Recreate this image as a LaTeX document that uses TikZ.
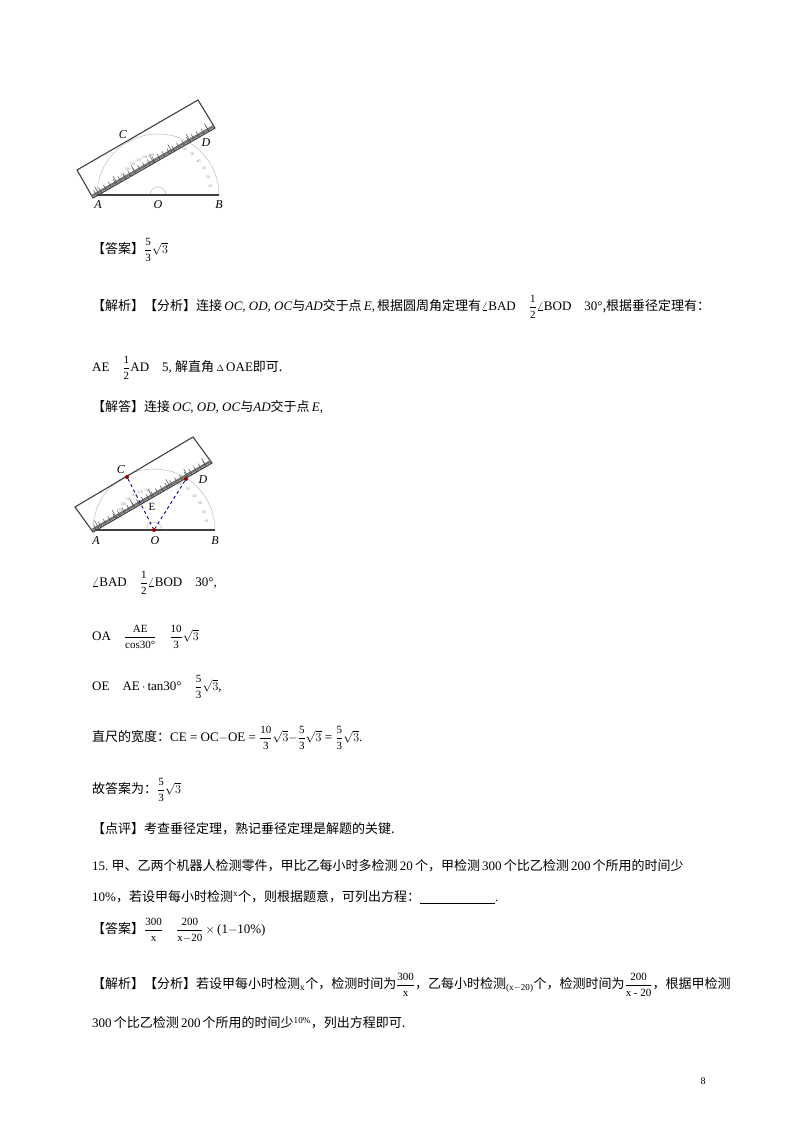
\documentclass[tikz,border=0pt]{standalone}
\usepackage{amsmath}
\usepackage{fontspec}
\setmainfont{Liberation Serif}
\newfontfamily\cjk{Noto Sans CJK SC}
\usetikzlibrary{calc}
\newcommand{\zh}[1]{{\cjk #1}}
\newcommand{\fr}[2]{\ensuremath{\dfrac{\text{\fontsize{11}{12}\selectfont #1}}{\text{\fontsize{11}{12}\selectfont #2}}}}
\tikzset{
  txt/.style={anchor=west,inner sep=0pt,font=\fontsize{13}{15}\selectfont},
  lbl/.style={inner sep=0pt,font=\fontsize{12}{14}\selectfont\itshape},
  ruler/.style={draw=black!75,line width=1.1pt},
  prot/.style={draw=black!25,line width=0.5pt},
  base/.style={draw=black!75,line width=1.4pt},
  tick/.style={draw=black!70,line width=0.5pt},
  num/.style={inner sep=0pt,font=\fontsize{4}{4}\selectfont,text=black!45},
  dsh/.style={draw=blue!55!black,dashed,line width=0.9pt},
  dot/.style={circle,fill=red!60!black,inner sep=0pt,minimum size=4pt}
}
\begin{document}
\begin{tikzpicture}[x=1pt,y=-1pt]
\useasboundingbox (0,0) rectangle (800,1132);
\fill[white] (0,0) rectangle (800,1132);
% ---------- figure 1 ----------
\coordinate (A1) at (97,195); \coordinate (B1) at (219,195); \coordinate (O1) at (158,195);
\coordinate (P1) at (93,198); \coordinate (P2) at (215,128);
\coordinate (P3) at (198,100); \coordinate (P4) at (77,170);
\draw[prot] (219,195) arc[start angle=0,end angle=-180,radius=61];
\draw[prot] (150,195) arc[start angle=-180,end angle=0,radius=8];
\foreach \a/\n in {10/10,20/20,30/30,40/40,50/50,60/60}{
  \node[num] at ($(O1)+(-\a:53)$) {\n};}
\foreach \a/\n in {100/100,110/110,120/120,130/130,140/140,150/150}{
  \node[num] at ($(O1)+(-\a:40)$) {\n};}
\draw[ruler] (P1) -- (P2) -- (P3) -- (P4) -- cycle;
\draw[black!55,line width=2.5pt] ($(P1)+(-1,-2)$) -- ($(P2)+(-1,-2)$);
\foreach \t in {0.03,0.07,...,0.99}{
  \draw[tick] ($(P1)!\t!(P2)$) -- ++(-3,-5.5);}
\foreach \t in {0.05,0.2,...,0.99}{
  \draw[tick] ($(P1)!\t!(P2)$) -- ++(-4.5,-8);}
\draw[base] (A1) -- (B1);
\node[lbl] (lA1) at (98,205) {A};
\node[lbl] (lO1) at (158,205) {O};
\node[lbl] (lB1) at (219,205) {B};
\node[lbl] (lC1) at (123,135) {C};
\node[lbl] (lD1) at (206,143) {D};
% ---------- figure 2 ----------
\coordinate (A2) at (95,530); \coordinate (B2) at (215,530); \coordinate (O2) at (154,530);
\coordinate (Q1) at (93,532); \coordinate (Q2) at (212,463);
\coordinate (Q3) at (193,437); \coordinate (Q4) at (75,507);
\draw[prot] (215,530) arc[start angle=0,end angle=-180,radius=61];
\draw[prot] (146,530) arc[start angle=-180,end angle=0,radius=8];
\foreach \a/\n in {10/10,20/20,30/30,40/40,50/50,60/60}{
  \node[num] at ($(O2)+(-\a:53)$) {\n};}
\foreach \a/\n in {100/100,110/110,120/120,130/130,140/140,150/150}{
  \node[num] at ($(O2)+(-\a:40)$) {\n};}
\draw[ruler] (Q1) -- (Q2) -- (Q3) -- (Q4) -- cycle;
\draw[black!55,line width=2.5pt] ($(Q1)+(-1,-2)$) -- ($(Q2)+(-1,-2)$);
\foreach \t in {0.03,0.07,...,0.99}{
  \draw[tick] ($(Q1)!\t!(Q2)$) -- ++(-3,-5.5);}
\foreach \t in {0.05,0.2,...,0.99}{
  \draw[tick] ($(Q1)!\t!(Q2)$) -- ++(-4.5,-8);}
\draw[base] (A2) -- (B2);
\node[dot] (C2) at (127,477) {};
\node[dot] (D2) at (186,479) {};
\node[dot] (O2d) at (154,530) {};
\draw[dsh] (C2) -- (O2d);
\draw[dsh] (D2) -- (O2d);
\node[lbl] (lA2) at (96,541) {A};
\node[lbl] (lO2) at (155,541) {O};
\node[lbl] (lB2) at (215,541) {B};
\node[lbl] (lC2) at (121,470) {C};
\node[lbl] (lD2) at (203,480) {D};
\node[inner sep=0pt,font=\fontsize{11}{12}\selectfont] (lE2) at (152,507) {E};
% ---------- text ----------
\node[txt] (t1) at (92,250) {\zh{【答案】}\fr{5}{3}$\sqrt{3}$};
\node[txt] (t2) at (92,307) {\zh{【解析】【分析】连接}\,\textit{OC, OD, OC}\zh{与}\textit{AD}\zh{交于点}\,\textit{E},\,\zh{根据圆周角定理有}$\angle$BAD\quad\fr{1}{2}$\angle$BOD\quad 30°\zh{,根据垂径定理有：}};
\node[txt] (t3) at (92,368) {AE\quad\fr{1}{2}AD\quad 5,\ \zh{解直角}\,$\scriptstyle\Delta$\,OAE\zh{即可.}};
\node[txt] (t4) at (92,407) {\zh{【解答】连接}\,\textit{OC, OD, OC}\zh{与}\textit{AD}\zh{交于点}\,\textit{E},};
\node[txt] (t5) at (92,583) {$\angle$BAD\quad\fr{1}{2}$\angle$BOD\quad 30°,};
\node[txt] (t6) at (92,637) {OA\quad\fr{AE}{cos30°}\quad\fr{10}{3}$\sqrt{3}$};
\node[txt] (t7) at (92,687) {OE\quad AE\,$\cdot$\,tan30°\quad\fr{5}{3}$\sqrt{3}$,};
\node[txt] (t8) at (92,738) {\zh{直尺的宽度：}CE = OC$-$OE = \fr{10}{3}$\sqrt{3}-$\fr{5}{3}$\sqrt{3}$ = \fr{5}{3}$\sqrt{3}$.};
\node[txt] (t9) at (92,790) {\zh{故答案为：}\fr{5}{3}$\sqrt{3}$};
\node[txt] (t10) at (92,829) {\zh{【点评】考查垂径定理，熟记垂径定理是解题的关键.}};
\node[txt] (t11) at (92,866) {15.\ \zh{甲、乙两个机器人检测零件，甲比乙每小时多检测}\,20\,\zh{个，甲检测}\,300\,\zh{个比乙检测}\,200\,\zh{个所用的时间少}};
\node[txt] (t12) at (92,897) {10\%\zh{，若设甲每小时检测}$^{\text{x}}$\zh{个，则根据题意，可列出方程：}\underline{\hspace{75pt}}.};
\node[txt] (t13) at (92,930) {\zh{【答案】}\fr{300}{x}\quad\fr{200}{x$-$20}\,$\times$\,(1$-$10\%)};
\node[txt] (t14) at (92,985) {\zh{【解析】【分析】若设甲每小时检测}$_{\text{x}}$\zh{个，检测时间为}\fr{300}{x}\zh{，乙每小时检测}$_{\text{(x$-$20)}}$\zh{个，检测时间为}\fr{200}{x - 20}\zh{，根据甲检测}};
\node[txt] (t15) at (92,1023) {300\,\zh{个比乙检测}\,200\,\zh{个所用的时间少}$^{\text{10\%}}$\zh{，列出方程即可.}};
\node[inner sep=0pt,font=\fontsize{10}{12}\selectfont] (pg) at (703,1081) {8};
\end{tikzpicture}
\end{document}
